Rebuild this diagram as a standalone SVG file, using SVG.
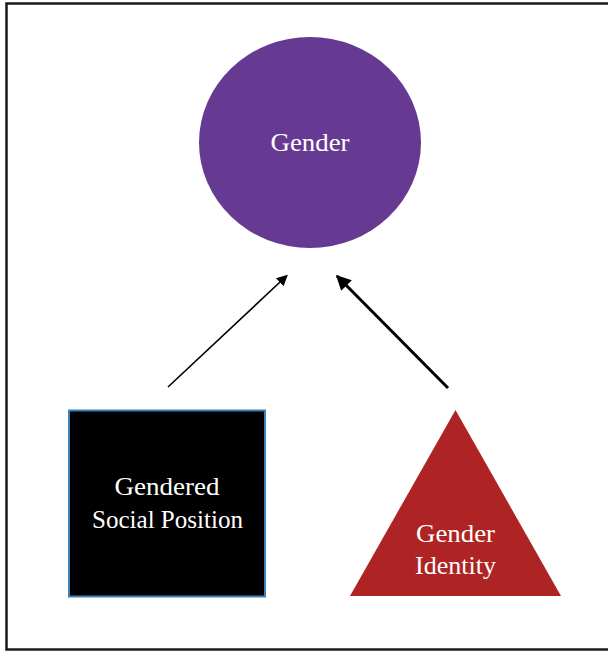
<svg xmlns="http://www.w3.org/2000/svg" width="608" height="654" viewBox="0 0 608 654">
<style>
.lbl{font-family:"Liberation Serif","Times New Roman",serif;font-size:25px;fill:#ffffff;text-anchor:middle}
.conn{stroke:#000;fill:none}
</style>
<defs>
<marker id="ah1" viewBox="0 0 10 10" refX="9" refY="5" markerWidth="11" markerHeight="11" markerUnits="userSpaceOnUse" orient="auto"><path d="M0,0 L10,5 L0,10 z" fill="#000"/></marker>
<marker id="ah2" viewBox="0 0 10 10" refX="9" refY="5" markerWidth="15" markerHeight="15" markerUnits="userSpaceOnUse" orient="auto"><path d="M0,0 L10,5 L0,10 z" fill="#000"/></marker>
</defs>
<rect width="608" height="654" fill="#fff"/>
<rect x="6.5" y="3.5" width="612" height="646" fill="none" stroke="#1a1a1a" stroke-width="2.5"/>
<g id="gender">
<ellipse cx="310" cy="142.5" rx="111" ry="105.5" fill="#663a93"/>
<text class="lbl" x="310" y="151" textLength="79" lengthAdjust="spacingAndGlyphs">Gender</text>
</g>
<g id="gendered-social-position">
<rect x="69" y="410.5" width="196" height="186" fill="#000" stroke="#3d80b5" stroke-width="2"/>
<text class="lbl" x="167" y="495" textLength="105" lengthAdjust="spacingAndGlyphs">Gendered</text>
<text class="lbl" x="167.5" y="528" textLength="151" lengthAdjust="spacingAndGlyphs">Social Position</text>
</g>
<g id="gender-identity">
<polygon points="455.5,410 561,596 350,596" fill="#ae2424"/>
<text class="lbl" x="455.5" y="542" textLength="79" lengthAdjust="spacingAndGlyphs">Gender</text>
<text class="lbl" x="455.5" y="574" textLength="81" lengthAdjust="spacingAndGlyphs">Identity</text>
</g>
<g id="connectors">
<line class="conn" x1="168" y1="387" x2="287" y2="275.5" stroke-width="1.6" marker-end="url(#ah1)"/>
<line class="conn" x1="448" y1="388" x2="337" y2="276" stroke-width="3" marker-end="url(#ah2)"/>
</g>
</svg>
